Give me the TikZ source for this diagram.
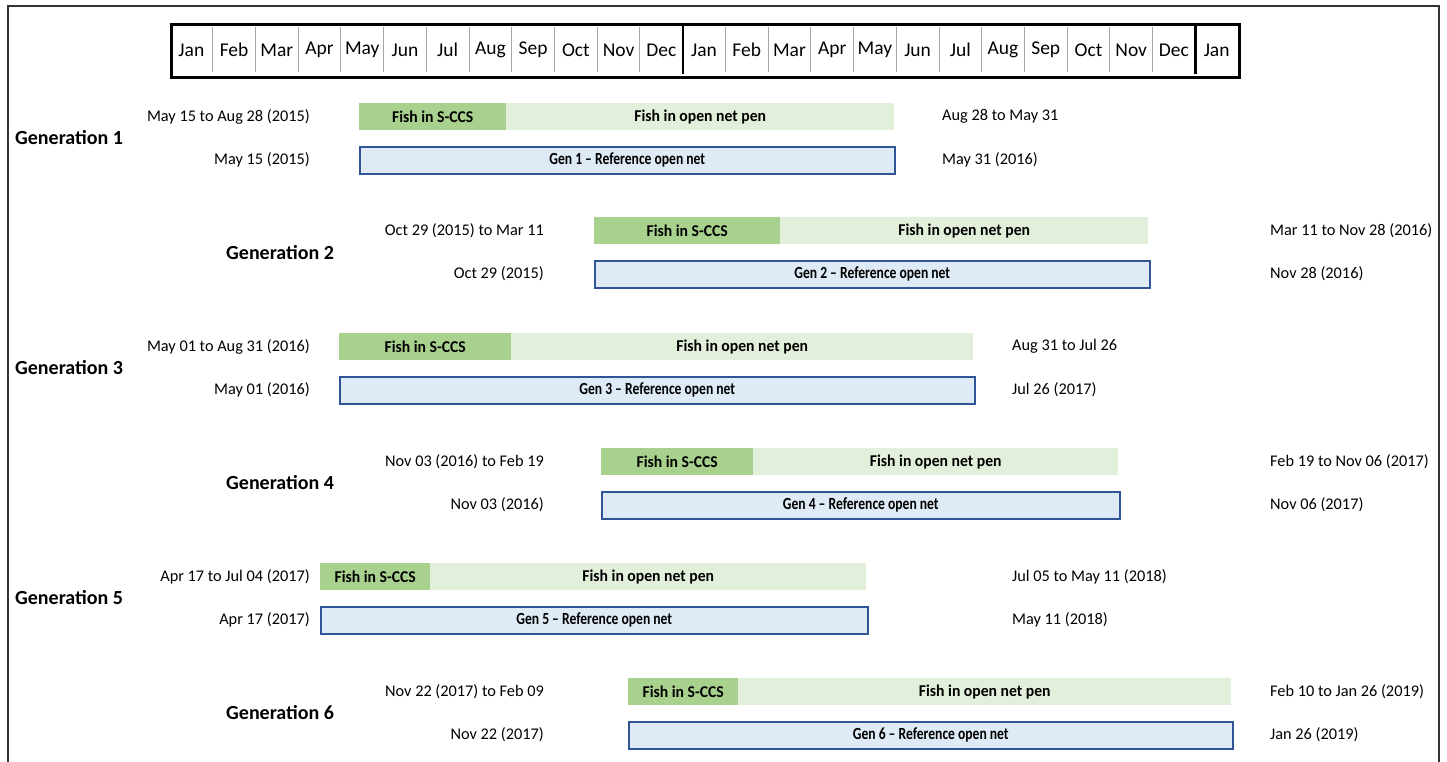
\documentclass[tikz,border=0pt]{standalone}
\usepackage{fontspec}
\setmainfont{Carlito}
\newfontfamily\barfont[FakeStretch=0.95,Ligatures=TeX]{Carlito}
\newfontfamily\reffont[FakeStretch=0.8,Ligatures=TeX]{Carlito}
\definecolor{sccs}{HTML}{A9D18E}
\definecolor{openpen}{HTML}{E2EFDA}
\definecolor{reffill}{HTML}{DEEBF7}
\definecolor{refdraw}{HTML}{2F5597}
\definecolor{sepgray}{HTML}{A6A6A6}
\begin{document}
\begin{tikzpicture}[x=1pt,y=-1pt,
  bar/.style={rectangle, inner sep=0pt, anchor=north west, minimum height=27pt},
  sccsbar/.style={bar, fill=sccs, font=\barfont\fontsize{16.5}{18}\selectfont\bfseries},
  penbar/.style={bar, fill=openpen, font=\barfont\fontsize{16.5}{18}\selectfont\bfseries},
  refbar/.style={bar, fill=reffill, draw=refdraw, line width=1.6pt, font=\reffont\fontsize{17}{18}\selectfont\bfseries},
  datel/.style={inner sep=0pt, anchor=east, font=\fontsize{16.3}{18}\selectfont},
  dater/.style={inner sep=0pt, anchor=west, font=\fontsize{16.3}{18}\selectfont},
  genlab/.style={inner sep=0pt, anchor=west, font=\fontsize{20}{22}\selectfont\bfseries},
  month/.style={inner sep=0pt, font=\fontsize{19.5}{21}\selectfont}]
\useasboundingbox (0,0) rectangle (1447,762);
% outer frame
\draw[line width=1.2pt, black!80] (8,770) -- (8,6) -- (1439,6) -- (1439,770);
% month header
\foreach \i in {1,...,24} {
  \draw[sepgray, line width=0.9pt] ({170+\i*42.72},27) -- ({170+\i*42.72},72);
}
\draw[line width=2.2pt] (682.6,24) -- (682.6,74);
\draw[line width=2.2pt] (1195.4,24) -- (1195.4,74);
\node[draw, line width=2.6pt, rectangle, inner sep=0pt, minimum width=1068pt, minimum height=53pt, anchor=north west] (header) at (170,23) {};
\foreach \m [count=\i] in {Jan,Feb,Mar,Apr,May,Jun,Jul,Aug,Sep,Oct,Nov,Dec,Jan,Feb,Mar,Apr,May,Jun,Jul,Aug,Sep,Oct,Nov,Dec,Jan} {
  \node[month] (m\i) at ({170+(\i-0.5)*42.72},50) {\m};
}
% Generation 1
\node[sccsbar, minimum width=147pt] (g1a) at (359,103) {Fish in S-CCS};
\node[penbar, minimum width=388pt] (g1b) at (506,103) {Fish in open net pen};
\node[refbar, minimum width=535pt] (g1c) at (359,146) {Gen 1 – Reference open net};
\node[datel] (g1l1) at (310,116.5) {May 15 to Aug 28 (2015)};
\node[datel] (g1l2) at (310,159.5) {May 15 (2015)};
\node[dater] (g1r1) at (942,116.5) {Aug 28 to May 31};
\node[dater] (g1r2) at (942,159.5) {May 31 (2016)};
\node[genlab] (g1) at (15,138) {Generation 1};
% Generation 2
\node[sccsbar, minimum width=186pt] (g2a) at (594,217) {Fish in S-CCS};
\node[penbar, minimum width=368pt] (g2b) at (780,217) {Fish in open net pen};
\node[refbar, minimum width=555pt] (g2c) at (594,260) {Gen 2 – Reference open net};
\node[datel] (g2l1) at (544,230.5) {Oct 29 (2015) to Mar 11};
\node[datel] (g2l2) at (544,273.5) {Oct 29 (2015)};
\node[dater] (g2r1) at (1270,230.5) {Mar 11 to Nov 28 (2016)};
\node[dater] (g2r2) at (1270,273.5) {Nov 28 (2016)};
\node[genlab] (g2) at (226,253) {Generation 2};
% Generation 3
\node[sccsbar, minimum width=172pt] (g3a) at (339,333) {Fish in S-CCS};
\node[penbar, minimum width=462pt] (g3b) at (511,333) {Fish in open net pen};
\node[refbar, minimum width=635pt] (g3c) at (339,376) {Gen 3 – Reference open net};
\node[datel] (g3l1) at (310,346.5) {May 01 to Aug 31 (2016)};
\node[datel] (g3l2) at (310,389.5) {May 01 (2016)};
\node[dater] (g3r1) at (1012,346.5) {Aug 31 to Jul 26};
\node[dater] (g3r2) at (1012,389.5) {Jul 26 (2017)};
\node[genlab] (g3) at (15,368) {Generation 3};
% Generation 4
\node[sccsbar, minimum width=152pt] (g4a) at (601,448) {Fish in S-CCS};
\node[penbar, minimum width=365pt] (g4b) at (753,448) {Fish in open net pen};
\node[refbar, minimum width=518pt] (g4c) at (601,491) {Gen 4 – Reference open net};
\node[datel] (g4l1) at (544,461.5) {Nov 03 (2016) to Feb 19};
\node[datel] (g4l2) at (544,504.5) {Nov 03 (2016)};
\node[dater] (g4r1) at (1270,461.5) {Feb 19 to Nov 06 (2017)};
\node[dater] (g4r2) at (1270,504.5) {Nov 06 (2017)};
\node[genlab] (g4) at (226,483) {Generation 4};
% Generation 5
\node[sccsbar, minimum width=110pt] (g5a) at (320,563) {Fish in S-CCS};
\node[penbar, minimum width=436pt] (g5b) at (430,563) {Fish in open net pen};
\node[refbar, minimum width=547pt] (g5c) at (320,606) {Gen 5 – Reference open net};
\node[datel] (g5l1) at (310,576.5) {Apr 17 to Jul 04 (2017)};
\node[datel] (g5l2) at (310,619.5) {Apr 17 (2017)};
\node[dater] (g5r1) at (1012,576.5) {Jul 05 to May 11 (2018)};
\node[dater] (g5r2) at (1012,619.5) {May 11 (2018)};
\node[genlab] (g5) at (15,598) {Generation 5};
% Generation 6
\node[sccsbar, minimum width=110pt] (g6a) at (628,678) {Fish in S-CCS};
\node[penbar, minimum width=493pt] (g6b) at (738,678) {Fish in open net pen};
\node[refbar, minimum width=604pt] (g6c) at (628,721) {Gen 6 – Reference open net};
\node[datel] (g6l1) at (544,691.5) {Nov 22 (2017) to Feb 09};
\node[datel] (g6l2) at (544,734.5) {Nov 22 (2017)};
\node[dater] (g6r1) at (1270,691.5) {Feb 10 to Jan 26 (2019)};
\node[dater] (g6r2) at (1270,734.5) {Jan 26 (2019)};
\node[genlab] (g6) at (226,713) {Generation 6};
\end{tikzpicture}
\end{document}
